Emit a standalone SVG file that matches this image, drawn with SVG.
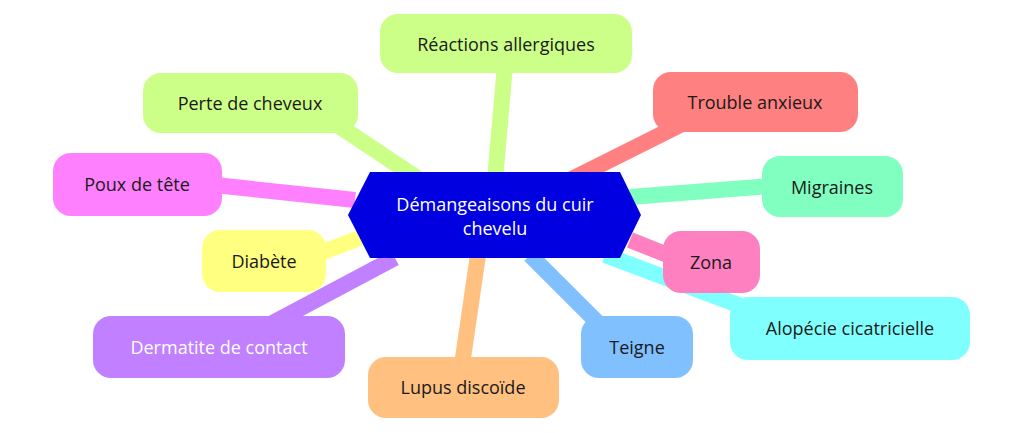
<svg xmlns="http://www.w3.org/2000/svg" width="1024" height="433" viewBox="0 0 1024 433">
<style>
text{font-family:"Open Sans","Liberation Sans",sans-serif;font-size:18px;fill:#1a1a1a;text-anchor:middle;dominant-baseline:central}
.c line{stroke-width:16;stroke-linecap:butt}
</style>
<rect width="1024" height="433" fill="#fff"/>
<g class="c" id="connectors">
<line x1="495" y1="180" x2="505" y2="65" stroke="#ccff88"/>
<line x1="420" y1="180" x2="330" y2="120" stroke="#ccff88"/>
<line x1="570" y1="180" x2="690" y2="120" stroke="#ff8080"/>
<line x1="355" y1="200" x2="215" y2="185" stroke="#ff80ff"/>
<line x1="630" y1="197" x2="770" y2="186" stroke="#80ffc0"/>
<line x1="360" y1="238" x2="315" y2="255" stroke="#ffff80"/>
<line x1="630" y1="240" x2="675" y2="258" stroke="#ff80c0"/>
<line x1="605" y1="255" x2="765" y2="315" stroke="#80ffff"/>
<line x1="395" y1="258" x2="250" y2="335" stroke="#c080ff"/>
<line x1="530" y1="255" x2="605" y2="330" stroke="#80c0ff"/>
<line x1="478" y1="255" x2="462" y2="365" stroke="#ffc080"/>
</g>
<g id="center"><polygon points="370,172 620,172 641,215 620,258 370,258 348,215" fill="#0000e0"/>
<text x="495" y="204" style="fill:#fff">Démangeaisons du cuir</text><text x="495" y="228" style="fill:#fff">chevelu</text></g>
<g id="n1"><rect x="380" y="14" width="252" height="59" rx="18" fill="#ccff88"/><text x="506" y="44">Réactions allergiques</text></g>
<g id="n2"><rect x="143" y="73" width="215" height="60" rx="18" fill="#ccff88"/><text x="250" y="103">Perte de cheveux</text></g>
<g id="n3"><rect x="653" y="72" width="205" height="60" rx="18" fill="#ff8080"/><text x="755" y="102">Trouble anxieux</text></g>
<g id="n4"><rect x="53" y="153" width="169" height="63" rx="18" fill="#ff80ff"/><text x="137" y="184">Poux de tête</text></g>
<g id="n5"><rect x="762" y="156" width="141" height="61" rx="18" fill="#80ffc0"/><text x="832" y="187">Migraines</text></g>
<g id="n6"><rect x="202" y="230" width="124" height="62" rx="18" fill="#ffff80"/><text x="264" y="261">Diabète</text></g>
<g id="n7"><rect x="663" y="231" width="97" height="62" rx="18" fill="#ff80c0"/><text x="711" y="262">Zona</text></g>
<g id="n8"><rect x="730" y="297" width="240" height="63" rx="18" fill="#80ffff"/><text x="850" y="328">Alopécie cicatricielle</text></g>
<g id="n9"><rect x="93" y="316" width="252" height="62" rx="18" fill="#c080ff"/><text x="219" y="347" style="fill:#fff">Dermatite de contact</text></g>
<g id="n10"><rect x="581" y="316" width="112" height="62" rx="18" fill="#80c0ff"/><text x="637" y="347">Teigne</text></g>
<g id="n11"><rect x="368" y="357" width="191" height="61" rx="18" fill="#ffc080"/><text x="463" y="387">Lupus discoïde</text></g>
</svg>
